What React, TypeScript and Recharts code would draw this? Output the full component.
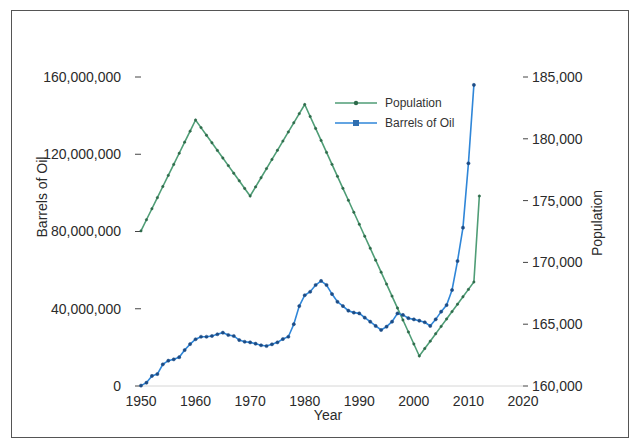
import React from 'react';
import { LineChart, Line, XAxis, YAxis, Legend, Label } from 'recharts';

const FONT = '"Liberation Sans", Arial, sans-serif';

const years = [
  1950, 1951, 1952, 1953, 1954, 1955, 1956, 1957, 1958, 1959,
  1960, 1961, 1962, 1963, 1964, 1965, 1966, 1967, 1968, 1969,
  1970, 1971, 1972, 1973, 1974, 1975, 1976, 1977, 1978, 1979,
  1980, 1981, 1982, 1983, 1984, 1985, 1986, 1987, 1988, 1989,
  1990, 1991, 1992, 1993, 1994, 1995, 1996, 1997, 1998, 1999,
  2000, 2001, 2002, 2003, 2004, 2005, 2006, 2007, 2008, 2009,
  2010, 2011, 2012,
];

// barrels of oil, in millions
const barrelsM = [
  0.2, 1.7, 5.2, 6.2, 11.2, 13.1, 13.8, 14.9, 18.6, 21.7,
  24.2, 25.5, 25.5, 25.9, 26.8, 27.6, 26.4, 25.9, 23.8, 22.9,
  22.6, 21.9, 21.1, 20.7, 21.6, 22.6, 24.3, 25.5, 32.0, 41.4,
  47.0, 48.8, 52.3, 54.4, 52.3, 47.6, 43.6, 41.4, 39.0, 38.0,
  37.6, 35.4, 33.3, 31.1, 29.0, 30.7, 33.3, 37.6, 36.8, 35.1,
  34.5, 33.8, 33.0, 31.1, 34.5, 38.5, 41.9, 49.7, 64.7, 82.0,
  115.3, 155.9, null,
];

const population = [
  172550, 173450, 174340, 175240, 176140, 177040, 177930, 178830, 179730, 180620,
  181520, 180905, 180290, 179675, 179060, 178445, 177830, 177215, 176600, 175985,
  175370, 176110, 176850, 177590, 178330, 179070, 179815, 180555, 181295, 182035,
  182775, 181806, 180837, 179869, 178900, 177931, 176962, 175994, 175025, 174056,
  173088, 172119, 171150, 170181, 169213, 168244, 167275, 166306, 165338, 164369,
  163400, 162430, 163030, 163627, 164226, 164824, 165423, 166021, 166620, 167218,
  167817, 168415, 175370,
];

const yearTicks = [1950, 1960, 1970, 1980, 1990, 2000, 2010, 2020];
const barrelTicks = [0, 40000000, 80000000, 120000000, 160000000];
const populationTicks = [160000, 165000, 170000, 175000, 180000, 185000];
const legendOrder = ['population', 'barrels'];

const data = years.map((year, i) => ({
  year,
  barrels: barrelsM[i] == null ? null : barrelsM[i]! * 1000000,
  population: population[i],
}));

const GREEN = '#4f9d76';
const GREEN_DOT = '#2f6b4b';
const BLUE = '#2f86d8';
const BLUE_DOT = '#1c4c86';

const fmt = (v: number) => v.toLocaleString('en-US');

const tickStyle = { fontSize: 14, fill: '#2b2b2b', fontFamily: FONT };

function renderLegend(props: any) {
  const payload = [...(props.payload || [])].sort(
    (a: any, b: any) => legendOrder.indexOf(a.dataKey) - legendOrder.indexOf(b.dataKey)
  );
  return (
    <div style={{ fontFamily: FONT, fontSize: 12, color: '#333' }}>
      {payload.map((item: any) => (
        <div key={item.value} style={{ display: 'flex', alignItems: 'center', height: 20 }}>
          <svg width={44} height={10} style={{ display: 'block' }}>
            <line x1={0} y1={5} x2={42} y2={5} stroke={item.color} strokeWidth={1.6} />
            {item.dataKey === 'population' ? (
              <circle cx={21} cy={5} r={2.2} fill={GREEN_DOT} />
            ) : (
              <rect x={18} y={2} width={6} height={6} fill="#2f6fb0" />
            )}
          </svg>
          <span style={{ marginLeft: 6 }}>{item.value}</span>
        </div>
      ))}
    </div>
  );
}

export default function App() {
  return (
    <div style={{ position: 'absolute', left: 0, top: 0, width: 632, height: 443, background: '#fff' }}>
      <div
        style={{
          position: 'absolute',
          left: 11,
          top: 10,
          width: 616,
          height: 426,
          border: '1.5px solid #555',
          pointerEvents: 'none',
        }}
      />
      <LineChart width={632} height={443} data={data} margin={{ top: 77, right: 0, bottom: 0, left: 0 }}>
        <XAxis
          dataKey="year"
          type="number"
          domain={[1950, 2020]}
          ticks={yearTicks}
          tickSize={0}
          tickMargin={10}
          tick={tickStyle}
          axisLine={{ stroke: '#d6d6d6' }}
          height={57}
          interval={0}
        >
          <Label
            value="Year"
            position="insideBottom"
            offset={23}
            dx={-4}
            style={{ fontSize: 14, fill: '#2b2b2b', fontFamily: FONT }}
          />
        </XAxis>
        <YAxis
          yAxisId="left"
          domain={[0, 160000000]}
          ticks={barrelTicks}
          tickFormatter={fmt}
          tick={tickStyle}
          width={141}
          tickSize={6}
          tickMargin={14}
          axisLine={false}
          tickLine={{ stroke: '#444' }}
          interval={0}
        >
          <Label
            content={() => (
              <text
                x={42}
                y={197}
                transform="rotate(-90 42 197)"
                textAnchor="middle"
                dominantBaseline="central"
                style={{ fontSize: 14, fill: '#2b2b2b', fontFamily: FONT }}
              >
                Barrels of Oil
              </text>
            )}
          />
        </YAxis>
        <YAxis
          yAxisId="right"
          orientation="right"
          domain={[160000, 185000]}
          ticks={populationTicks}
          tickFormatter={fmt}
          tick={tickStyle}
          width={109}
          tickSize={5}
          tickMargin={4}
          axisLine={false}
          tickLine={{ stroke: '#444' }}
          interval={0}
        >
          <Label
            content={() => (
              <text
                x={597}
                y={223}
                transform="rotate(-90 597 223)"
                textAnchor="middle"
                dominantBaseline="central"
                style={{ fontSize: 14, fill: '#2b2b2b', fontFamily: FONT }}
              >
                Population
              </text>
            )}
          />
        </YAxis>
        <Legend
          layout="vertical"
          align="center"
          verticalAlign="middle"
          wrapperStyle={{ left: 335, top: 93, width: 160 }}
          content={renderLegend}
        />
        <Line
          yAxisId="right"
          dataKey="population"
          name="Population"
          type="linear"
          stroke={GREEN}
          strokeWidth={1.6}
          dot={{ r: 1.2, fill: GREEN_DOT, stroke: GREEN_DOT, strokeWidth: 0.5 }}
          isAnimationActive={false}
        />
        <Line
          yAxisId="left"
          dataKey="barrels"
          name="Barrels of Oil"
          type="linear"
          stroke={BLUE}
          strokeWidth={1.6}
          dot={{ r: 1.6, fill: BLUE_DOT, stroke: BLUE_DOT, strokeWidth: 0.5 }}
          connectNulls={false}
          isAnimationActive={false}
        />
      </LineChart>
    </div>
  );
}
